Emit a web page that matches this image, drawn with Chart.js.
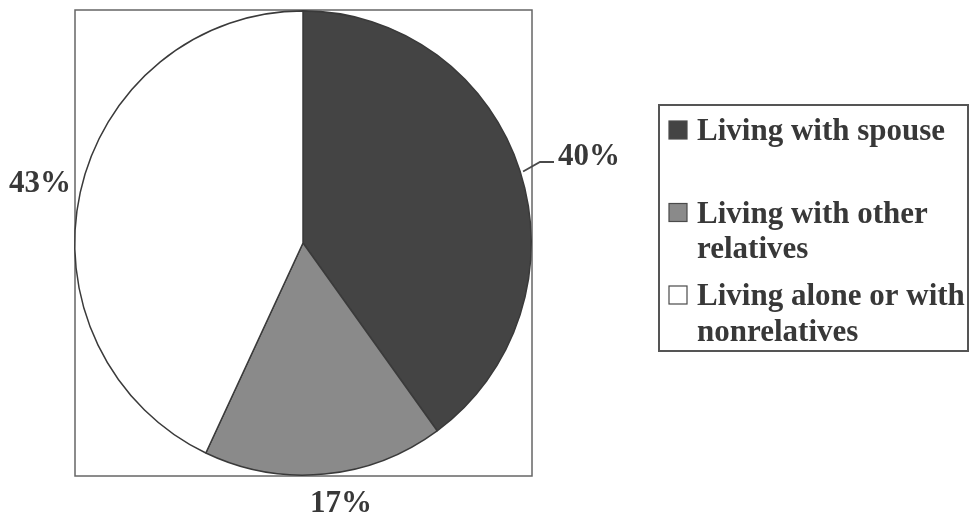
<!DOCTYPE html>
<html>
<head>
<meta charset="utf-8">
<script src="https://cdn.jsdelivr.net/npm/chart.js@4/dist/chart.umd.min.js"></script>
<style>
  html, body { margin: 0; padding: 0; background: #ffffff; }
  #wrap { width: 970px; height: 519px; position: relative; }
</style>
</head>
<body>
<div id="wrap"><canvas id="pie" width="970" height="519"></canvas></div>
<script>
// Living arrangements, percent of persons
const categories = ['Living with spouse', 'Living with other relatives', 'Living alone or with nonrelatives'];
const shares = [40, 17, 43];
const sliceColors = ['#444444', '#8a8a8a', '#ffffff'];

const FONT = 'bold 31px "Liberation Serif", "Times New Roman", serif';
const INK = '#383838';

// plot frame around the pie
const framePlugin = {
  id: 'frame',
  beforeDatasetsDraw(chart) {
    const ctx = chart.ctx;
    ctx.save();
    ctx.strokeStyle = '#666666';
    ctx.lineWidth = 1.5;
    ctx.strokeRect(75, 10, 457, 466);
    ctx.restore();
  }
};

// percentage labels outside the slices
const labelPlugin = {
  id: 'pctLabels',
  afterDatasetsDraw(chart) {
    const ctx = chart.ctx;
    const arcs = chart.getDatasetMeta(0).data;
    const vals = chart.data.datasets[0].data;
    ctx.save();
    ctx.font = FONT;
    ctx.fillStyle = INK;
    ctx.textBaseline = 'alphabetic';

    // 40% with a short leader from the slice edge
    const a0 = arcs[0];
    const mid = (a0.startAngle + a0.endAngle) / 2;
    const ex = a0.x + Math.cos(mid) * a0.outerRadius;
    const ey = a0.y + Math.sin(mid) * a0.outerRadius;
    ctx.strokeStyle = '#4a4a4a';
    ctx.lineWidth = 1.8;
    ctx.beginPath();
    ctx.moveTo(ex + 3, ey - 1);
    ctx.lineTo(540, 162);
    ctx.lineTo(554, 162);
    ctx.stroke();
    ctx.textAlign = 'left';
    ctx.fillText(vals[0] + '%', 558, 165);

    ctx.textAlign = 'center';
    ctx.fillText(vals[1] + '%', 341, 512);

    ctx.textAlign = 'right';
    ctx.fillText(vals[2] + '%', 71, 192);
    ctx.restore();
  }
};

// boxed legend on the right with wrapped entries
const legendPlugin = {
  id: 'boxLegend',
  afterDraw(chart) {
    const ctx = chart.ctx;
    const ds = chart.data.datasets[0];
    ctx.save();
    ctx.strokeStyle = '#555555';
    ctx.lineWidth = 2;
    ctx.strokeRect(659, 105, 309, 246);

    ctx.font = FONT;
    ctx.fillStyle = INK;
    ctx.textAlign = 'left';
    ctx.textBaseline = 'alphabetic';
    const maxW = 275;
    chart.data.labels.forEach((label, i) => {
      const base = 140 + i * 82.5;
      // marker
      ctx.fillStyle = ds.backgroundColor[i];
      ctx.fillRect(669, base - 19, 18, 18);
      ctx.strokeStyle = '#4a4a4a';
      ctx.lineWidth = 1.2;
      ctx.strokeRect(669, base - 19, 18, 18);
      // wrapped text
      const words = label.split(' ');
      const lines = [];
      let cur = '';
      words.forEach(w => {
        const t = cur ? cur + ' ' + w : w;
        if (ctx.measureText(t).width > maxW && cur) { lines.push(cur); cur = w; }
        else cur = t;
      });
      if (cur) lines.push(cur);
      ctx.fillStyle = INK;
      lines.forEach((ln, k) => ctx.fillText(ln, 697, base + k * 35.5));
    });
    ctx.restore();
  }
};

// the pie is slightly taller than wide
const stretchPlugin = {
  id: 'stretch',
  beforeDatasetDraw(chart) {
    const a = chart.getDatasetMeta(0).data[0];
    const ctx = chart.ctx;
    ctx.save();
    ctx.translate(a.x, a.y);
    ctx.scale(1, 1.017);
    ctx.translate(-a.x, -a.y);
  },
  afterDatasetDraw(chart) {
    chart.ctx.restore();
  }
};

new Chart(document.getElementById('pie'), {
  type: 'pie',
  data: {
    labels: categories,
    datasets: [{
      data: shares,
      backgroundColor: sliceColors,
      borderColor: '#3a3a3a',
      borderWidth: 1.5
    }]
  },
  options: {
    responsive: false,
    animation: false,
    devicePixelRatio: 1,
    layout: { padding: { left: 74, right: 438, top: 14, bottom: 47 } },
    plugins: {
      legend: { display: false },
      tooltip: { enabled: false }
    }
  },
  plugins: [framePlugin, stretchPlugin, labelPlugin, legendPlugin]
});
</script>
</body>
</html>
